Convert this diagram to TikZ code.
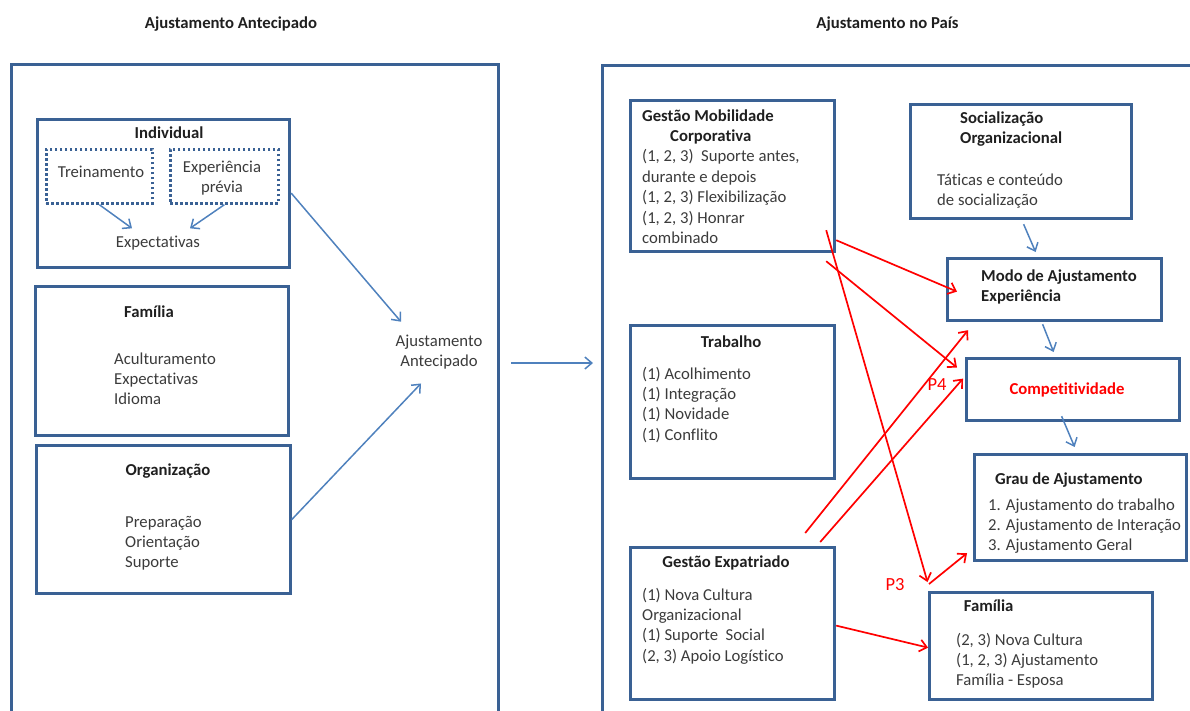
\documentclass[tikz,border=0pt]{standalone}
\usepackage{fontspec}
\setmainfont{Carlito}[Ligatures=NoCommon]
\usetikzlibrary{arrows.meta,calc}

\definecolor{boxblue}{HTML}{3A6194}
\definecolor{arrblue}{HTML}{4F81BD}
\definecolor{txtgray}{HTML}{3B3B3B}
\definecolor{headgray}{HTML}{1F1F1F}

\tikzset{
  panel/.style={draw=boxblue, line width=3.2pt, anchor=north west, inner sep=0pt},
  dotbox/.style={draw=boxblue, line width=2.7pt, dash pattern=on 2.6pt off 2.4pt, anchor=north west, inner sep=0pt},
  body/.style={font=\fontsize{16.7}{20.4}\selectfont, text=txtgray, inner sep=0pt, align=left, anchor=north west},
  bodyc/.style={body, align=center, anchor=north},
  head/.style={font=\fontsize{16.7}{20.4}\selectfont\bfseries, text=headgray, inner sep=0pt, anchor=base},
  headl/.style={head, anchor=base west},
  headblock/.style={body, font=\fontsize{16.7}{20.4}\selectfont\bfseries, text=headgray},
  plabel/.style={font=\fontsize{18.5}{22}\selectfont, text=red, inner sep=0pt, anchor=base},
  barb/.style={-{Straight Barb[length=7pt,width=12pt]}},
  bluearrow/.style={barb, draw=arrblue, line width=1.5pt},
  redarrow/.style={barb, draw=red, line width=1.7pt},
}

\begin{document}
\begin{tikzpicture}[x=1pt,y=-1pt]
\useasboundingbox (0,0) rectangle (1190,710);

% section titles
\node[head] (titleA) at (231,28) {Ajustamento Antecipado};
\node[head] (titleB) at (887.5,28) {Ajustamento no País};

% the two large frames run past the lower (and right) edge
\begin{scope}
  \clip (0,0) rectangle (1190,710);
  \node[panel, minimum width=487pt, minimum height=700pt] (outerL) at (10,63) {};
  \node[panel, minimum width=650pt, minimum height=700pt] (outerR) at (601,64) {};
\end{scope}

% ---------- anticipated adjustment ----------
\node[panel, minimum width=252.5pt, minimum height=148pt] (indiv) at (35.5,117.5) {};
\node[head] (indivH) at (169,138) {Individual};
\node[dotbox, minimum width=106pt, minimum height=54pt] (treino) at (45,148) {};
\node[dotbox, minimum width=108pt, minimum height=54pt] (exper) at (169,148) {};
\node[body, anchor=base] (treinoT) at (101,177) {Treinamento};
\node[bodyc] (experT) at (222,157.7) {\strut Experiência\\prévia};
\node[body, anchor=base] (expect) at (158,247) {Expectativas};

\node[panel, minimum width=253pt, minimum height=149pt] (famL) at (34,285) {};
\node[head] (famLH) at (149,317) {Família};
\node[body] (famLT) at (114,349.7) {\strut Aculturamento\\Expectativas\\Idioma};

\node[panel, minimum width=253.5pt, minimum height=148pt] (org) at (35,444) {};
\node[head] (orgH) at (168,475) {Organização};
\node[body] (orgT) at (125,512.7) {\strut Preparação\\Orientação\\Suporte};

\node[bodyc] (aa) at (439,331.7) {\strut Ajustamento\\Antecipado};

\draw[bluearrow] (treino.south) -- ($(expect.north)+(-26,-7)$);
\draw[bluearrow] (exper.south) -- ($(expect.north)+(32,-7)$);
\draw[bluearrow] (indiv.east) -- ($(aa.north)+(-38,-10)$);
\draw[bluearrow] (org.east) -- ($(aa.south)+(-18,14)$);
\draw[bluearrow] ($(outerL.north east)+(11,300)$) -- ($(outerR.north west)+(-8,299)$);

% ---------- adjustment in the country ----------
\node[panel, minimum width=204.5pt, minimum height=150.5pt] (gmc) at (628.5,99) {};
\node[body] (gmcT) at (642,106.7) {\strut\textbf{\color{headgray}Gestão Mobilidade}\\
  \hspace*{28pt}\textbf{\color{headgray}Corporativa}\\
  (1, 2, 3)\ \ Suporte antes,\\
  durante e depois\\
  (1, 2, 3) Flexibilização\\
  (1, 2, 3) Honrar\\
  combinado};

\node[panel, minimum width=221pt, minimum height=114pt] (soc) at (909,103) {};
\node[headblock] (socH) at (960,108.7) {\strut Socialização\\Organizacional};
\node[body] (socT) at (937,170.7) {\strut Táticas e conteúdo\\de socialização};

\node[panel, minimum width=214pt, minimum height=62pt] (modo) at (946,257) {};
\node[headblock] (modoH) at (981,266.7) {\strut Modo de Ajustamento\\Experiência};

\node[panel, minimum width=213pt, minimum height=62pt] (comp) at (965,357) {};
\node[head, text=red] (compH) at (1067,394) {Competitividade};

\node[panel, minimum width=212pt, minimum height=106pt] (grau) at (973,453) {};
\node[headl] (grauH) at (995,484) {Grau de Ajustamento};
\node[body] (grauT) at (988,495.7) {\strut 1. Ajustamento do trabalho\\2. Ajustamento de Interação\\3. Ajustamento Geral};

\node[panel, minimum width=204.5pt, minimum height=153pt] (trab) at (628.5,324) {};
\node[head] (trabH) at (731,347) {Trabalho};
\node[body] (trabT) at (642,364.7) {\strut (1) Acolhimento\\(1) Integração\\(1) Novidade\\(1) Conflito};

\node[panel, minimum width=204.5pt, minimum height=152pt] (ge) at (628.5,546) {};
\node[head] (geH) at (726,567) {Gestão Expatriado};
\node[body] (geT) at (642,585.7) {\strut (1) Nova Cultura\\Organizacional\\(1) Suporte\ \ Social\\(2, 3) Apoio Logístico};

\node[panel, minimum width=223.5pt, minimum height=107pt] (famR) at (927.5,591) {};
\node[headl] (famRH) at (963.6,611) {Família};
\node[body] (famRT) at (956,630.7) {\strut (2, 3) Nova Cultura\\(1, 2, 3) Ajustamento\\Família - Esposa};

\node[plabel] (p4) at (937,390) {P4};
\node[plabel] (p3) at (895,590) {P3};

% blue flow between the outcome boxes
\draw[bluearrow] ($(soc.south)+(2.5,4)$) -- ($(modo.north)+(-19,-5)$);
\draw[bluearrow] ($(modo.south)+(-12,2)$) -- ($(comp.north)+(-19.5,-5)$);
\draw[bluearrow] ($(comp.south)+(-11.5,-6)$) -- ($(grau.north)+(-6,-6)$);

% red propositions
\draw[redarrow] ($(gmc.south east)+(0,-12.5)$) -- ($(modo.west)+(11,2)$);
\draw[redarrow] ($(gmc.south east)+(-10,8.5)$) -- ($(comp.west)+(-8,-22)$);
\draw[redarrow] ($(gmc.south east)+(-10,-22.5)$) -- ($(famR.north west)+(0,-9)$);
\draw[redarrow] ($(ge.north east)+(-31,-13)$) -- ($(modo.south west)+(22,8)$);
\draw[redarrow] ($(ge.north east)+(-16,-4)$) -- ($(comp.west)+(-2,-11)$);
\draw[redarrow] ($(famR.north west)+(1.5,-7)$) -- ($(grau.south west)+(-6,-9)$);
\draw[redarrow] ($(ge.east)+(0,2)$) -- ($(famR.west)+(0.5,1.5)$);
\end{tikzpicture}
\end{document}
